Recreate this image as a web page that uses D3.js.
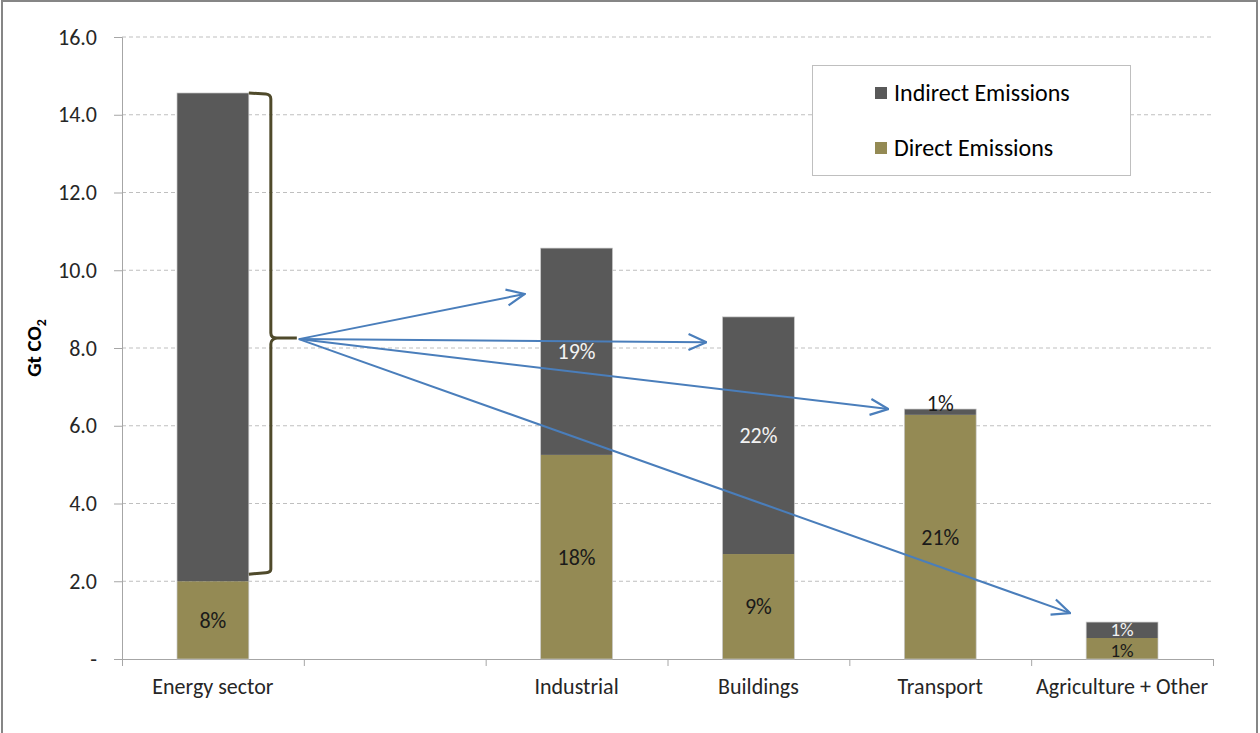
<!DOCTYPE html>
<html>
<head>
<meta charset="utf-8">
<script src="https://cdn.jsdelivr.net/npm/d3@7/dist/d3.min.js"></script>
<style>
  html, body { margin: 0; padding: 0; background: #fff; }
  svg { display: block; font-family: Carlito, Calibri, Lato, "Open Sans", sans-serif; }
</style>
</head>
<body>
<svg id="chart" width="1260" height="733"></svg>
<script>
// ---- data ----
const categories = ["Energy sector", " ", "Industrial", "Buildings", "Transport", "Agriculture + Other"];
const directValues = [2.0, 0, 5.25, 2.7, 6.28, 0.54];
const indirectValues = [12.56, 0, 5.32, 6.1, 0.15, 0.41];
const directLabels = ["8%", "", "18%", "9%", "21%", "1%"];
const indirectLabels = ["", "", "19%", "22%", "1%", "1%"];
const yTicks = [0, 2, 4, 6, 8, 10, 12, 14, 16];
const yTickLabels = ["-", "2.0", "4.0", "6.0", "8.0", "10.0", "12.0", "14.0", "16.0"];
const seriesNames = ["Indirect Emissions", "Direct Emissions"];
// arrows from the energy-sector brace to each end-use sector: [target category, value at arrow tip]
const arrowTargets = [["Industrial", 9.39], ["Buildings", 8.15], ["Transport", 6.43], ["Agriculture + Other", 1.18]];

const colors = { indirect: "#595959", direct: "#948a54" };

const svg = d3.select("#chart");
const W = 1260, H = 733;
const m = { left: 122, right: 47, top: 37, bottom: 74 };
const plotW = W - m.left - m.right, plotH = H - m.top - m.bottom;

// outer border
svg.append("rect").attr("x", 2).attr("y", 1).attr("width", 1255).attr("height", 740)
  .attr("fill", "#fff").attr("stroke", "#868686").attr("stroke-width", 2);

const x = d3.scaleBand().domain(categories).range([m.left, m.left + plotW]).paddingInner(0).paddingOuter(0);
const y = d3.scaleLinear().domain([0, 16]).range([m.top + plotH, m.top]);
const barW = x.bandwidth() * 0.395;

// gridlines
svg.append("g").selectAll("line").data(yTicks.filter(d => d > 0)).join("line")
  .attr("x1", m.left).attr("x2", m.left + plotW)
  .attr("y1", d => y(d)).attr("y2", d => y(d))
  .attr("stroke", "#bfbfbf").attr("stroke-width", 1).attr("stroke-dasharray", "4,3");

// y axis
const yAxis = svg.append("g").attr("transform", `translate(${m.left},0)`)
  .call(d3.axisLeft(y).tickValues(yTicks).tickFormat((d, i) => yTickLabels[i]).tickSizeOuter(0).tickSize(8).tickPadding(17));
yAxis.attr("font-family", null).attr("font-size", 22);
yAxis.select(".domain").attr("stroke", "#a6a6a6");
yAxis.selectAll(".tick line").attr("stroke", "#a6a6a6");
yAxis.selectAll(".tick text").attr("fill", "#262626");

// x axis: line with ticks at band boundaries
const xb = d3.scaleLinear().domain([0, categories.length]).range([m.left, m.left + plotW]);
const xAxis = svg.append("g").attr("transform", `translate(0,${y(0)})`)
  .call(d3.axisBottom(xb).tickValues(d3.range(categories.length + 1)).tickFormat("").tickSize(7).tickSizeOuter(0));
xAxis.select(".domain").attr("stroke", "#a6a6a6");
xAxis.selectAll(".tick line").attr("stroke", "#a6a6a6");
// category labels
const xLab = svg.append("g").attr("transform", `translate(0,${y(0)})`)
  .call(d3.axisBottom(x).tickSize(0).tickPadding(19));
xLab.attr("font-family", null).attr("font-size", 22);
xLab.select(".domain").remove();
xLab.selectAll(".tick text").attr("fill", "#262626");

// y axis title
svg.append("text").attr("transform", `translate(41,348) rotate(-90)`)
  .attr("text-anchor", "middle").attr("font-size", 21).attr("font-weight", "bold").attr("fill", "#000")
  .text("Gt CO")
  .append("tspan").attr("font-size", 14).attr("dy", 5).text("2");

// bars
const rows = categories.map((c, i) => ({ c, d: directValues[i], ind: indirectValues[i], dl: directLabels[i], il: indirectLabels[i] }))
  .filter(r => r.d + r.ind > 0);
const bx = r => x(r.c) + (x.bandwidth() - barW) / 2;

svg.append("g").selectAll("rect").data(rows).join("rect")
  .attr("x", bx).attr("width", barW)
  .attr("y", r => y(r.d)).attr("height", r => y(0) - y(r.d))
  .attr("fill", colors.direct);
svg.append("g").selectAll("rect").data(rows).join("rect")
  .attr("x", bx).attr("width", barW)
  .attr("y", r => y(r.d + r.ind)).attr("height", r => y(r.d) - y(r.d + r.ind))
  .attr("fill", colors.indirect);
svg.append("g").selectAll("rect").data(rows).join("rect")
  .attr("x", bx).attr("width", barW)
  .attr("y", r => y(r.d + r.ind)).attr("height", r => y(0) - y(r.d + r.ind))
  .attr("fill", "none").attr("stroke", "#c8c8c8").attr("stroke-width", 0.7);

// labels
const small = r => r.d + r.ind < 1.5;
svg.append("g").selectAll("text").data(rows.filter(r => r.dl)).join("text")
  .attr("x", r => x(r.c) + x.bandwidth() / 2).attr("y", r => y(r.d / 2) + (small(r) ? 2 : 0))
  .attr("dy", "0.35em").attr("text-anchor", "middle").attr("font-size", r => small(r) ? 19 : 22).attr("fill", "#1a1a1a")
  .text(r => r.dl);
svg.append("g").selectAll("text").data(rows.filter(r => r.il)).join("text")
  .attr("x", r => x(r.c) + x.bandwidth() / 2)
  .attr("y", r => r.ind < 0.3 ? y(r.d + r.ind) - 6 : y(r.d + r.ind / 2) - (small(r) ? 1 : 0))
  .attr("dy", "0.35em").attr("text-anchor", "middle").attr("font-size", r => small(r) ? 19 : 22)
  .attr("fill", r => r.ind < 0.3 ? "#1a1a1a" : "#f2f2f2")
  .text(r => r.il);

// brace on the energy-sector indirect segment
const e = rows[0];
const bx0 = bx(e) + barW, bTop = y(e.d + e.ind), bBot = y(e.d), bMid = (bTop + bBot) / 2 + 2;
const braceX = bx0 + 22, tipX = bx0 + 48;
const brace = d3.path();
brace.moveTo(bx0, bTop);
brace.lineTo(braceX - 5, bTop + 1);
brace.quadraticCurveTo(braceX, bTop + 1.5, braceX, bTop + 6);
brace.lineTo(braceX, bMid - 6);
brace.quadraticCurveTo(braceX, bMid - 1, braceX + 6, bMid - 1);
brace.lineTo(tipX, bMid - 1);
brace.moveTo(braceX + 6, bMid - 1);
brace.quadraticCurveTo(braceX, bMid, braceX, bMid + 5);
brace.lineTo(braceX, bBot - 12);
brace.quadraticCurveTo(braceX, bBot - 9, braceX - 5, bBot - 8.5);
brace.lineTo(bx0, bBot - 7);
svg.append("path").attr("d", brace.toString()).attr("fill", "none")
  .attr("stroke", "#4f4a2b").attr("stroke-width", 3).attr("stroke-linejoin", "round");

// arrows
const defs = svg.append("defs");
defs.append("marker").attr("id", "chev").attr("viewBox", "0 0 20 20").attr("refX", 19).attr("refY", 10)
  .attr("markerWidth", 20).attr("markerHeight", 20).attr("markerUnits", "userSpaceOnUse").attr("orient", "auto")
  .append("path").attr("d", "M1,2 L19,10 L1,18").attr("fill", "none").attr("stroke", "#4a7ebb").attr("stroke-width", 2.2);
const ox = tipX + 2, oy = bMid;
svg.append("g").selectAll("line").data(arrowTargets).join("line")
  .attr("x1", ox).attr("y1", oy)
  .attr("x2", d => bx(rows.find(r => r.c === d[0])) - 16).attr("y2", d => y(d[1]))
  .attr("stroke", "#4a7ebb").attr("stroke-width", 2).attr("marker-end", "url(#chev)");

// legend
const lg = svg.append("g");
lg.append("rect").attr("x", 812.5).attr("y", 65.5).attr("width", 318).attr("height", 110)
  .attr("fill", "#fff").attr("stroke", "#bfbfbf");
const items = [[seriesNames[0], colors.indirect, 93], [seriesNames[1], colors.direct, 148]];
items.forEach(([t, c, yy]) => {
  lg.append("rect").attr("x", 875).attr("y", yy - 6).attr("width", 12).attr("height", 12).attr("fill", c);
  lg.append("text").attr("x", 894).attr("y", yy).attr("dy", "0.35em").attr("font-size", 24).attr("fill", "#000").text(t);
});
</script>
</body>
</html>
